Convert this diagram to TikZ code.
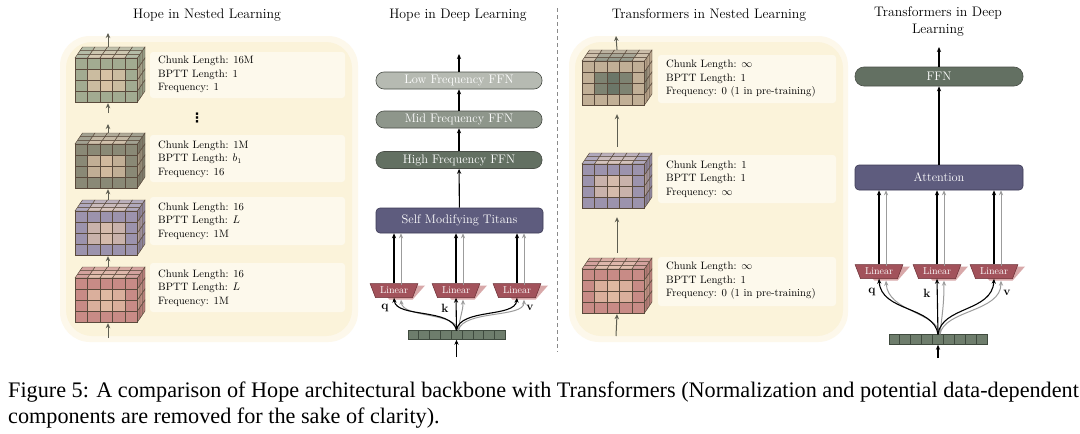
\documentclass[tikz,border=0pt]{standalone}
\usepackage{fontspec}
\newfontfamily\capfont{Liberation Serif}
\newfontfamily\symfont{DejaVu Sans}
\usetikzlibrary{arrows.meta,shapes.geometric,calc}
\definecolor{cream}{HTML}{FBF3DA}
\definecolor{tanc}{HTML}{E6C7AA}
\definecolor{cgreen}{HTML}{8CA289}
\definecolor{cdark}{HTML}{6C7564}
\definecolor{cblue}{HTML}{8482AE}
\definecolor{crose}{HTML}{BE777A}
\definecolor{cspot}{HTML}{52665A}
\definecolor{gridc}{HTML}{5A4A3C}
\definecolor{arrowc}{HTML}{5E5E52}
\definecolor{lowc}{HTML}{B6BAB2}
\definecolor{midc}{HTML}{8E968B}
\definecolor{highc}{HTML}{637062}
\definecolor{boxd}{HTML}{4A4F48}
\definecolor{titc}{HTML}{5E5C7E}
\definecolor{memd}{HTML}{3C3A55}
\definecolor{linc}{HTML}{A2525B}
\definecolor{lind}{HTML}{6A2E34}
\definecolor{linsc}{HTML}{D8A8A9}
\definecolor{tokc}{HTML}{6E7D6C}
\definecolor{tokd}{HTML}{3F4A3E}
\definecolor{dashc}{HTML}{8A8A8A}
\definecolor{grayarr}{HTML}{9C9C9C}
\tikzset{
  cubeline/.style={draw=gridc,line width=0.45pt},
  cubebox/.style={draw=none,minimum width=70pt,minimum height=56pt,inner sep=0pt},
  info/.style={anchor=west,align=left,inner sep=0pt,font=\fontsize{10.7}{13.5}\selectfont},
  band/.style={fill=white,opacity=0.5,rounded corners=3pt},
  ttl/.style={inner sep=0pt,align=center,font=\fontsize{13.8}{17}\selectfont},
  ffnbox/.style={rounded corners=8pt,draw=boxd,line width=0.6pt,minimum width=166pt,minimum height=17pt,text=white,inner sep=0pt,font=\fontsize{12.4}{12.4}\selectfont},
  membox/.style={rounded corners=4pt,draw=memd,line width=0.6pt,fill=titc,minimum width=167pt,minimum height=25pt,text=white,inner sep=0pt,font=\fontsize{12.4}{12.4}\selectfont},
  lin/.style={trapezium,trapezium stretches=true,shape border rotate=180,trapezium angle=62,minimum width=48pt,minimum height=14pt,inner sep=0.5pt,fill=linc,draw=lind,line width=0.5pt,text=white,font=\fontsize{10}{10}\selectfont},
  linsh/.style={trapezium,trapezium stretches=true,shape border rotate=180,trapezium angle=62,minimum width=48pt,minimum height=14pt,inner sep=1pt,fill=linsc,draw=none},
  tokbox/.style={draw=tokd,fill=tokc,minimum width=97pt,minimum height=9pt,inner sep=0pt,line width=0.5pt},
  lbl/.style={inner sep=0pt,font=\fontsize{12}{12}\selectfont\bfseries},
  blk/.style={-{Stealth[length=5pt,width=4.2pt]},line width=1.1pt,black},
  gry/.style={-{Stealth[length=5pt,width=4.2pt]},line width=1pt,grayarr},
  narr/.style={-{Stealth[length=5pt,width=4.5pt]},line width=1pt,arrowc},
}
\newcommand\mycube[4]{%
 \begin{scope}[shift={(#1,#2)}]
  \foreach \i in {0,...,4}{\foreach \k in {0,1,2}{%
    \pgfmathsetmacro\p{int(75*pow(max(abs(\i-2)/2,0.45+0.2*\k),1.3))}%
    \colorlet{cc}{#3!\p!#4}%
    \filldraw[fill=cc!80!white,cubeline] ({\i*12.5+\k*2.5},{-\k*11/3}) -- ++(12.5,0) -- ++(2.5,-11/3) -- ++(-12.5,0) -- cycle;
  }}
  \foreach \j in {0,...,3}{\foreach \k in {0,1,2}{%
    \pgfmathsetmacro\p{int(80*pow(max(abs(\j-1.5)/1.5,0.6+0.2*\k),1.3))}%
    \colorlet{cc}{#3!\p!#4}%
    \filldraw[fill=cc!85!gridc,cubeline] ({62.5+\k*2.5},{\j*11-\k*11/3}) -- ++(2.5,-11/3) -- ++(0,11) -- ++(-2.5,11/3) -- cycle;
  }}
  \foreach \i in {0,...,4}{\foreach \j in {0,...,3}{%
    \pgfmathsetmacro\p{int(75*pow(max(abs(\i-2)/2,abs(\j-1.5)/1.5),1.3))}%
    \colorlet{cc}{#3!\p!#4}%
    \filldraw[fill=cc,cubeline] ({\i*12.5},{\j*11}) rectangle ++(12.5,11);
  }}
 \end{scope}}
\begin{document}
\begin{tikzpicture}[x=1pt,y=-1pt]
\useasboundingbox (0,0) rectangle (1080,434);
\fill[white] (0,0) rectangle (1080,434);
% ---------- backgrounds
\fill[cream!55!white,rounded corners=30pt] (60,36) rectangle (358,342);
\fill[cream,rounded corners=26pt] (66,42) rectangle (352,336);
\fill[cream!55!white,rounded corners=30pt] (569,36) rectangle (848,342);
\fill[cream,rounded corners=26pt] (575,42) rectangle (843,336);
\fill[band] (150,52) rectangle (345,98);
\fill[band] (150,135) rectangle (345,182);
\fill[band] (150,197) rectangle (345,245);
\fill[band] (150,263) rectangle (345,312);
\fill[band] (658,55) rectangle (836,103);
\fill[band] (658,155) rectangle (836,203);
\fill[band] (658,257) rectangle (836,306);
% ---------- titles
\node[ttl] (t1) at (207,15) {Hope in Nested Learning};
\node[ttl] (t2) at (458,15) {Hope in Deep Learning};
\node[ttl] (t3) at (709,15) {Transformers in Nested Learning};
\node[ttl] (t4) at (938,22) {Transformers in Deep\\Learning};
% ---------- separator
\draw[dashc,line width=0.8pt,dash pattern=on 4pt off 3pt] (557,8) -- (557,352);
% ---------- left nested panel
\mycube{75}{58}{cgreen}{tanc}
\mycube{75}{144}{cdark}{tanc}
\mycube{75}{211}{cblue}{tanc}
\mycube{75}{278}{crose}{tanc}
\node[cubebox] (cube1) at (108,75) {};
\node[cubebox] (cube2) at (108,161) {};
\node[cubebox] (cube3) at (108,228) {};
\node[cubebox] (cube4) at (108,295) {};
\node[inner sep=0pt,font=\symfont\bfseries\fontsize{13}{13}\selectfont] (dots) at (197,118) {⋮};
\coordinate (c1out) at (108,33);
\coordinate (dmid1) at (108,113);
\coordinate (dmid2) at (108,124);
\coordinate (c4in) at (108,338);
\draw[narr] (cube1.north) -- (c1out);
\draw[narr] (dmid1) -- (cube1.south);
\draw[narr] (cube2.north) -- (dmid2);
\draw[narr] (cube3.north) -- (cube2.south);
\draw[narr] (cube4.north) -- (cube3.south);
\draw[narr] (c4in) -- (cube4.south);
\node[info] (i1) at (158,74.5) {Chunk Length: 16M\\BPTT Length: 1\\Frequency: 1};
\node[info] (i2) at (158,159) {Chunk Length: 1M\\BPTT Length: $b_1$\\Frequency: 16};
\node[info] (i3) at (158,221) {Chunk Length: 16\\BPTT Length: $L$\\Frequency: 1M};
\node[info] (i4) at (158,288) {Chunk Length: 16\\BPTT Length: $L$\\Frequency: 1M};
% ---------- Hope deep panel
\node[ffnbox,fill=lowc] (low) at (459,80.5) {Low Frequency FFN};
\node[ffnbox,fill=midc] (mid) at (459,119.5) {Mid Frequency FFN};
\node[ffnbox,fill=highc] (high) at (459,160) {High Frequency FFN};
\node[membox] (tit) at (459.5,220.5) {Self Modifying Titans};
\coordinate (hout) at (459,54);
\draw[blk] (low.north) -- (hout);
\draw[blk] (mid) -- (low);
\draw[blk] (high) -- (mid);
\draw[blk] (tit) -- (high);
\node[linsh] (l1s) at (401,292.5) {};
\node[linsh] (l2s) at (463,292.5) {};
\node[linsh] (l3s) at (524,292.5) {};
\node[lin] (l1) at (394,290.5) {Linear};
\node[lin] (l2) at (456,290.5) {Linear};
\node[lin] (l3) at (517,290.5) {Linear};
\draw[gry] (l1s.north) -- (l1s.north |- tit.south);
\draw[gry] (l2s.north) -- (l2s.north |- tit.south);
\draw[gry] (l3s.north) -- (l3s.north |- tit.south);
\draw[blk] (l1.north) -- (l1.north |- tit.south);
\draw[blk] (l2.north) -- (l2.north |- tit.south);
\draw[blk] (l3.north) -- (l3.north |- tit.south);
\node[tokbox] (tok) at (456.5,335) {};
\foreach \t in {1,...,8}{\draw[tokd,line width=0.5pt] ($(tok.south west)!\t/9!(tok.south east)$) -- ++(0,-9);}
\draw[gry] ($(tok.north)+(2,0)$) .. controls (455,312) and (403,318) .. (l1s.south);
\draw[gry] ($(tok.north)+(2,0)$) .. controls (460,315) and (463,312) .. (l2s.south);
\draw[gry] ($(tok.north)+(2,0)$) .. controls (463,310) and (524,318) .. (l3s.south);
\draw[blk] (tok.north) .. controls (452,308) and (396,318) .. (l1.south);
\draw[blk] (tok.north) -- (l2.south);
\draw[blk] (tok.north) .. controls (460,308) and (515,318) .. (l3.south);
\coordinate (hin) at (456.5,357);
\draw[blk] (hin) -- (tok.south);
\node[lbl] (q1) at (385,308) {q};
\node[lbl] (k1) at (445,308) {k};
\node[lbl] (v1) at (530,308) {v};
% ---------- Transformers nested panel
\mycube{582}{61}{tanc}{cspot}
\mycube{582}{164}{cblue}{tanc}
\mycube{582}{269}{crose}{tanc}
\node[cubebox] (cA) at (617,78) {};
\node[cubebox] (cB) at (617,181) {};
\node[cubebox] (cC) at (617,286) {};
\coordinate (cAout) at (616,36);
\coordinate (cCin) at (616,336);
\draw[narr] (cA.north) -- (cAout);
\draw[narr] ($(cB.north)+(0,-6)$) -- ($(cA.south)+(0,8)$);
\draw[narr] ($(cC.north)+(0,-5)$) -- ($(cB.south)+(0,8)$);
\draw[narr] (cCin) -- (cC.south);
\node[info] (iA) at (666,79) {Chunk Length: $\infty$\\BPTT Length: 1\\Frequency: 0 (1 in pre-training)};
\node[info] (iB) at (666,179) {Chunk Length: 1\\BPTT Length: 1\\Frequency: $\infty$};
\node[info] (iC) at (666,281) {Chunk Length: $\infty$\\BPTT Length: 1\\Frequency: 0 (1 in pre-training)};
% ---------- Transformers deep panel
\node[ffnbox,fill=highc,minimum width=168pt,minimum height=19pt,rounded corners=9pt] (ffn) at (939,76.5) {FFN};
\node[membox,minimum width=168pt] (att) at (939,177.5) {Attention};
\coordinate (fout) at (939,47);
\draw[blk] (ffn.north) -- (fout);
\draw[blk] (att) -- (ffn);
\node[linsh] (m1s) at (886,273.5) {};
\node[linsh] (m2s) at (944,273.5) {};
\node[linsh] (m3s) at (1001,273.5) {};
\node[lin] (m1) at (879,271.5) {Linear};
\node[lin] (m2) at (937,271.5) {Linear};
\node[lin] (m3) at (994,271.5) {Linear};
\draw[gry] (m1s.north) -- (m1s.north |- att.south);
\draw[gry] (m2s.north) -- (m2s.north |- att.south);
\draw[gry] (m3s.north) -- (m3s.north |- att.south);
\draw[blk] (m1.north) -- (m1.north |- att.south);
\draw[blk] (m2.north) -- (m2.north |- att.south);
\draw[blk] (m3.north) -- (m3.north |- att.south);
\node[tokbox,minimum width=98pt,minimum height=10pt] (tok2) at (938,339.5) {};
\foreach \t in {1,...,8}{\draw[tokd,line width=0.5pt] ($(tok2.south west)!\t/9!(tok2.south east)$) -- ++(0,-10);}
\draw[gry] ($(tok2.north)+(2,0)$) .. controls (937,312) and (888,312) .. (m1s.south);
\draw[gry] ($(tok2.north)+(2,0)$) .. controls (942,315) and (944,305) .. (m2s.south);
\draw[gry] ($(tok2.north)+(2,0)$) .. controls (944,310) and (1001,312) .. (m3s.south);
\draw[blk] (tok2.north) .. controls (934,306) and (881,312) .. (m1.south);
\draw[blk] (tok2.north) -- (m2.south);
\draw[blk] (tok2.north) .. controls (942,306) and (992,312) .. (m3.south);
\coordinate (fin) at (938,358);
\draw[blk] (fin) -- (tok2.south);
\node[lbl] (q2) at (872,292) {q};
\node[lbl] (k2) at (927,293) {k};
\node[lbl] (v2) at (1007,293) {v};
% ---------- caption
\node[anchor=base west,inner sep=0pt,font=\capfont\fontsize{22.2}{26}\selectfont] (cap1) at (8,397) {Figure 5: A comparison of Hope architectural backbone with Transformers (Normalization and potential data-dependent};
\node[anchor=base west,inner sep=0pt,font=\capfont\fontsize{22.2}{26}\selectfont] (cap2) at (8,423) {components are removed for the sake of clarity).};
\end{tikzpicture}
\end{document}
